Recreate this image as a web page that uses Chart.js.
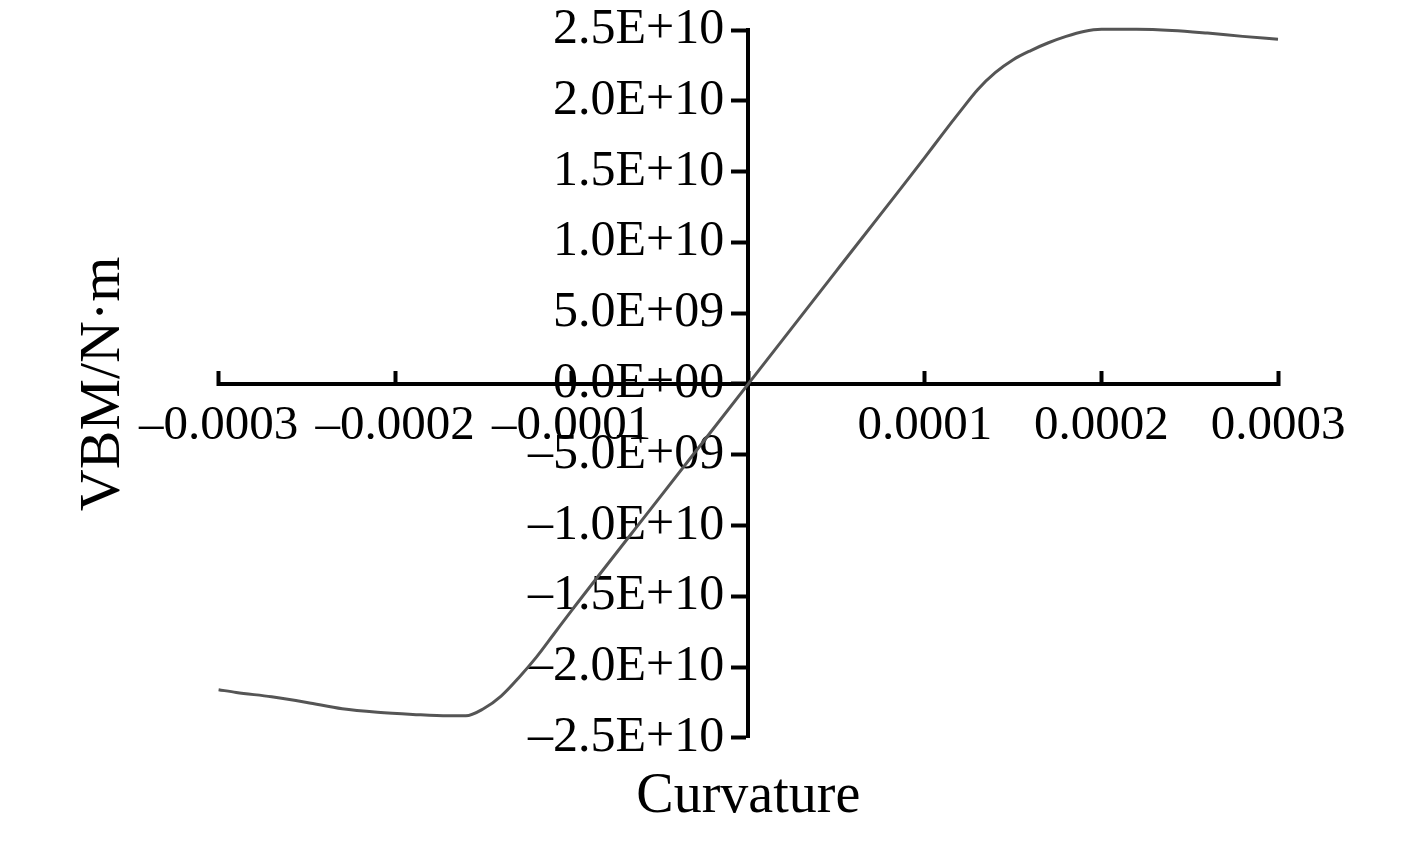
<!DOCTYPE html>
<html>
<head>
<meta charset="utf-8">
<script src="https://cdn.jsdelivr.net/npm/chart.js@4.4.1/dist/chart.umd.min.js"></script>
<style>
  html, body { margin: 0; padding: 0; background: #ffffff; }
  #wrap { width: 1417px; height: 841px; }
</style>
</head>
<body>
<div id="wrap"><canvas id="c" width="1417" height="841"></canvas></div>
<script>
// Curvature values (x) and vertical bending moment (VBM, N·m)
const curvature = [
  -0.0003, -0.00029, -0.00027, -0.00025, -0.00023, -0.00021, -0.00019, -0.00017, -0.00016,
  -0.00015, -0.00014, -0.00013, -0.00012, -0.00011, -0.0001, -0.00005, 0,
  0.00005, 0.0001, 0.00011, 0.00012, 0.00013, 0.00014, 0.00015, 0.00016, 0.00017,
  0.00018, 0.00019, 0.0002, 0.00022, 0.00024, 0.00026, 0.00028, 0.0003
];
const vbm = [
  -2.16e10, -2.18e10, -2.21e10, -2.25e10, -2.295e10, -2.32e10, -2.335e10, -2.345e10, -2.345e10,
  -2.295e10, -2.205e10, -2.075e10, -1.93e10, -1.765e10, -1.60e10, -0.80e10, 0,
  0.80e10, 1.60e10, 1.765e10, 1.925e10, 2.08e10, 2.20e10, 2.29e10, 2.355e10, 2.41e10,
  2.455e10, 2.49e10, 2.505e10, 2.505e10, 2.497e10, 2.478e10, 2.455e10, 2.435e10
];
const xTicks = { min: -0.0003, max: 0.0003, step: 0.0001 };
const yTicks = { min: -2.5e10, max: 2.5e10, step: 5e9 };
const xTitle = 'Curvature';
const yTitle = 'VBM/N·m';

const MINUS = '\u2013';
function fmtX(v) {
  const r = Math.round(v * 1e4) / 1e4;
  if (r === 0) return '';
  return (r < 0 ? MINUS : '') + Math.abs(r).toFixed(4);
}
function fmtY(v) {
  const r = Math.round(v / 1e8) * 1e8;
  if (r === 0) return '0.0E+00';
  const a = Math.abs(r);
  const e = Math.floor(Math.log10(a) + 1e-9);
  const m = a / Math.pow(10, e);
  return (r < 0 ? MINUS : '') + m.toFixed(1) + 'E+' + String(e).padStart(2, '0');
}

const points = curvature.map((x, i) => ({ x: x, y: vbm[i] }));
const FONT = 'Liberation Serif, Times New Roman, serif';

new Chart(document.getElementById('c'), {
  type: 'scatter',
  data: {
    datasets: [{
      data: points,
      showLine: true,
      borderColor: '#555555',
      borderWidth: 3,
      pointRadius: 0,
      cubicInterpolationMode: 'monotone',
      clip: false
    }]
  },
  options: {
    responsive: false,
    animation: false,
    devicePixelRatio: 1,
    layout: { padding: { left: 40, right: 139, top: 30, bottom: 0 } },
    plugins: {
      legend: { display: false },
      tooltip: { enabled: false },
      title: {
        display: true,
        text: xTitle,
        position: 'bottom',
        fullSize: false,
        color: '#000',
        font: { family: FONT, size: 56, weight: 'normal', lineHeight: 1.2 },
        padding: { top: 26, bottom: 10 }
      },
      subtitle: {
        display: true,
        text: yTitle,
        position: 'left',
        fullSize: false,
        color: '#000',
        font: { family: FONT, size: 58, weight: 'normal', lineHeight: 1.2 },
        padding: { top: 29, bottom: 80 }
      }
    },
    scales: {
      x: {
        type: 'linear',
        position: 'center',
        min: xTicks.min,
        max: xTicks.max,
        border: { display: true, color: '#000', width: 4 },
        grid: { display: true, drawOnChartArea: false, drawTicks: true, tickLength: -15, tickColor: '#000', tickWidth: 4 },
        ticks: {
          stepSize: xTicks.step,
          autoSkip: false,
          maxRotation: 0,
          padding: 28,
          color: '#000',
          font: { family: FONT, size: 49 },
          callback: (v) => fmtX(v)
        }
      },
      y: {
        type: 'linear',
        position: 'center',
        min: yTicks.min,
        max: yTicks.max,
        border: { display: true, color: '#000', width: 4 },
        grid: { display: true, drawOnChartArea: false, drawTicks: true, tickLength: 15, tickColor: '#000', tickWidth: 4 },
        ticks: {
          stepSize: yTicks.step,
          autoSkip: false,
          padding: 9,
          color: '#000',
          font: { family: FONT, size: 50, lineHeight: 0.8 },
          callback: (v) => fmtY(v)
        }
      }
    }
  }
});
</script>
</body>
</html>
